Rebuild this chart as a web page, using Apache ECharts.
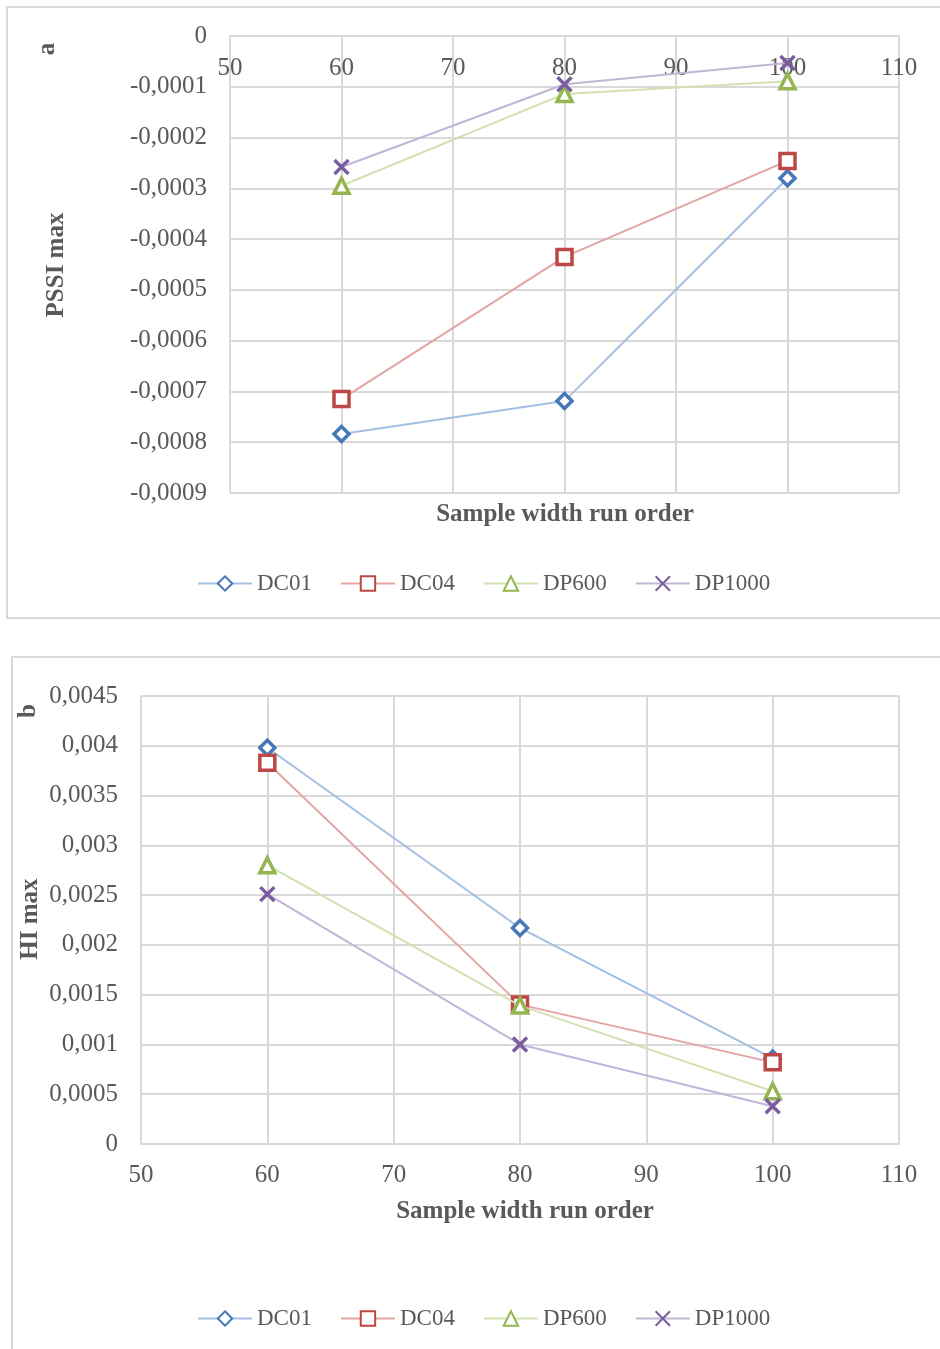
<!DOCTYPE html>
<html>
<head>
<meta charset="utf-8">
<script src="https://cdn.jsdelivr.net/npm/echarts@6/dist/echarts.min.js"></script>
<style>
  html, body { margin: 0; padding: 0; background: #fff; }
  #chart { width: 940px; height: 1349px; }
</style>
</head>
<body>
<div id="chart"></div>
<script>
// Sample width run order (x positions)
const widths = [60, 80, 100];
const seriesNames = ['DC01', 'DC04', 'DP600', 'DP1000'];

// Panel a: PSSI max
const pssiDC01 = [-0.000784, -0.000719, -0.000280];
const pssiDC04 = [-0.000715, -0.000435, -0.000246];
const pssiDP600 = [-0.000295, -0.000114, -0.000089];
const pssiDP1000 = [-0.000258, -0.000095, -0.000053];

// Panel b: HI max
const hiDC01 = [0.00398, 0.00217, 0.00086];
const hiDC04 = [0.00383, 0.00140, 0.00082];
const hiDP600 = [0.00280, 0.00139, 0.00053];
const hiDP1000 = [0.00251, 0.00100, 0.00038];

// Axis ranges / tick steps
const xRange = [50, 110, 10];
const pssiRange = [-0.0009, 0, 0.0001];
const hiRange = [0, 0.0045, 0.0005];

const markerColors = ['#4677b8', '#bd4744', '#94b650', '#7a5d9e'];
const lineColors = ['#a3bfe1', '#e3a5a3', '#d1e1b2', '#c2b5d7'];
const symbols = ['diamond', 'rect', 'triangle', 'path://M0,0L10,10M10,0L0,10'];
const symbolSizes = [15, 15, 15, 14];

const FONT = 'Liberation Serif';
const TXT = '#595959';
const GRID_LINE = '#d9d9d9';

function tickFmt(v) {
  const n = parseFloat(Number(v).toFixed(6));
  return n === 0 ? '0' : String(n).replace('.', ',');
}

function makeSeries(values, idx, axisIdx) {
  return {
    name: seriesNames[idx],
    type: 'line',
    xAxisIndex: axisIdx,
    yAxisIndex: axisIdx,
    data: widths.map((w, i) => [w, values[i]]),
    symbol: symbols[idx],
    symbolSize: symbolSizes[idx],
    showAllSymbol: true,
    lineStyle: { color: lineColors[idx], width: 2 },
    itemStyle: { color: '#fff', borderColor: markerColors[idx], borderWidth: 3.5 },
    emphasis: { disabled: true },
    z: 3 + idx
  };
}

const axisLabelStyle = { fontFamily: FONT, fontSize: 25, color: TXT };
const splitStyle = { show: true, lineStyle: { color: GRID_LINE, width: 2 } };

function legendCfg(top) {
  return {
    data: seriesNames,
    left: 192,
    top: top,
    itemWidth: 54,
    itemHeight: 18,
    itemGap: 28,
    textStyle: { fontFamily: FONT, fontSize: 23, color: TXT },
    selectedMode: false
  };
}

function rotText(x, y, text) {
  return {
    type: 'text', x: x, y: y, rotation: Math.PI / 2,
    style: { text: text, fontFamily: FONT, fontSize: 25, fontWeight: 'bold', fill: TXT,
             textAlign: 'center', textVerticalAlign: 'middle' }
  };
}
function plainText(x, y, text) {
  return {
    type: 'text', x: x, y: y,
    style: { text: text, fontFamily: FONT, fontSize: 25, fontWeight: 'bold', fill: TXT,
             textAlign: 'center', textVerticalAlign: 'middle' }
  };
}

const chart = echarts.init(document.getElementById('chart'), null, { renderer: 'canvas' });
chart.setOption({
  animation: false,
  backgroundColor: '#fff',
  grid: [
    { left: 230, top: 36, width: 669, height: 457 },
    { left: 141, top: 696, width: 758, height: 448 }
  ],
  xAxis: [
    {
      type: 'value', gridIndex: 0, position: 'top',
      min: xRange[0], max: xRange[1], interval: xRange[2],
      axisLine: { show: true, lineStyle: { color: GRID_LINE, width: 2 } },
      axisTick: { show: false },
      axisLabel: Object.assign({ inside: true, margin: 32, verticalAlign: 'middle' }, axisLabelStyle),
      splitLine: splitStyle
    },
    {
      type: 'value', gridIndex: 1, position: 'bottom',
      min: xRange[0], max: xRange[1], interval: xRange[2],
      axisLine: { show: true, lineStyle: { color: GRID_LINE, width: 2 } },
      axisTick: { show: false },
      axisLabel: Object.assign({ margin: 31, verticalAlign: 'middle' }, axisLabelStyle),
      splitLine: splitStyle
    }
  ],
  yAxis: [
    {
      type: 'value', gridIndex: 0,
      min: pssiRange[0], max: pssiRange[1], interval: pssiRange[2],
      axisLine: { show: false },
      axisTick: { show: false },
      axisLabel: Object.assign({ margin: 23, formatter: tickFmt }, axisLabelStyle),
      splitLine: splitStyle
    },
    {
      type: 'value', gridIndex: 1,
      min: hiRange[0], max: hiRange[1], interval: hiRange[2],
      axisLine: { show: false },
      axisTick: { show: false },
      axisLabel: Object.assign({ margin: 23, formatter: tickFmt }, axisLabelStyle),
      splitLine: splitStyle
    }
  ],
  legend: [legendCfg(567), legendCfg(1302)],
  graphic: [
    { type: 'rect', shape: { x: 7, y: 7, width: 950, height: 611 },
      style: { fill: 'none', stroke: GRID_LINE, lineWidth: 2 }, z: -1 },
    { type: 'rect', shape: { x: 12, y: 657, width: 950, height: 720 },
      style: { fill: 'none', stroke: GRID_LINE, lineWidth: 2 }, z: -1 },
    rotText(48, 49, 'a'),
    rotText(57, 265, 'PSSI max'),
    plainText(565, 515, 'Sample width run order'),
    rotText(29, 711, 'b'),
    rotText(31, 919, 'HI max'),
    plainText(525, 1212, 'Sample width run order')
  ],
  series: [
    makeSeries(pssiDC01, 0, 0),
    makeSeries(pssiDC04, 1, 0),
    makeSeries(pssiDP600, 2, 0),
    makeSeries(pssiDP1000, 3, 0),
    makeSeries(hiDC01, 0, 1),
    makeSeries(hiDC04, 1, 1),
    makeSeries(hiDP600, 2, 1),
    makeSeries(hiDP1000, 3, 1)
  ]
});
</script>
</body>
</html>
